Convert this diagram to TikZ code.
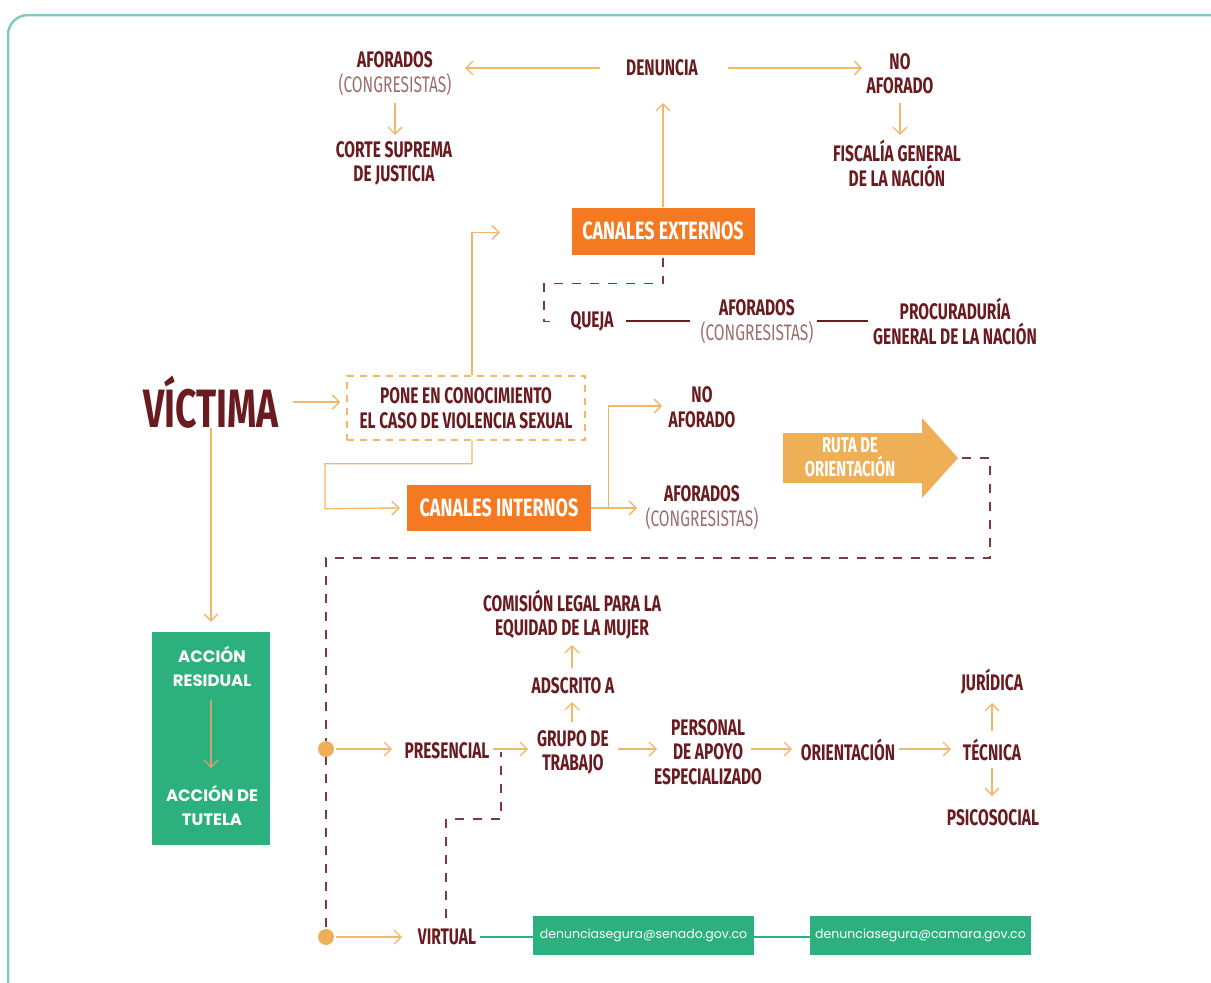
\documentclass[tikz,border=0pt]{standalone}
\usepackage{fontspec}
\newfontfamily\cond[FakeStretch=0.69]{Fira Sans}
\newfontfamily\condw[FakeStretch=0.72]{Fira Sans}
\newfontfamily\popp{Poppins}
\usetikzlibrary{arrows.meta,calc}
\definecolor{maroon}{HTML}{6A1B1F}
\definecolor{lite}{HTML}{9C6F6A}
\definecolor{arrc}{HTML}{F2B868}
\definecolor{orng}{HTML}{F47920}
\definecolor{grn}{HTML}{2BB07E}
\definecolor{ruta}{HTML}{EFAF56}
\definecolor{dm}{HTML}{7B3A3C}
\definecolor{framec}{HTML}{80CABE}
\definecolor{tanc}{HTML}{C9A46E}
\newcommand\congr{{\cond\mdseries\color{lite}(CONGRESISTAS)}}
\begin{document}
\begin{tikzpicture}[x=1pt,y=-1pt,
  lbl/.style={font=\cond\bfseries\fontsize{22.5}{24.5}\selectfont,text=maroon,align=center,inner sep=0pt},
  big/.style={font=\cond\bfseries\fontsize{54}{54}\selectfont,text=maroon,inner sep=0pt},
  obox/.style={fill=orng,text=white,font=\condw\bfseries\fontsize{25}{27}\selectfont,inner sep=0pt},
  pone/.style={draw=arrc,line width=1.4pt,dash pattern=on 7pt off 6pt,align=center,inner sep=0pt,font=\cond\bfseries\fontsize{22.5}{24.5}\selectfont,text=maroon,minimum width=238pt,minimum height=64pt},
  gbox/.style={fill=grn,text=white,font=\popp\fontsize{12.5}{14}\selectfont,inner sep=0pt,minimum width=221pt,minimum height=39pt},
  gtxt/.style={text=white,font=\popp\bfseries\fontsize{16.5}{24}\selectfont,align=center,inner sep=0pt},
  arr/.style={draw=arrc,line width=1.4pt,-{Straight Barb[length=7pt,width=14pt,line width=1.4pt]}},
  dmline/.style={draw=dm,line width=1.5pt,dash pattern=on 9pt off 9pt},
  solidm/.style={draw=maroon,line width=1.2pt},
  gline/.style={draw=grn,line width=1.4pt}]
\useasboundingbox (0,0) rectangle (1211,983);
\clip (0,0) rectangle (1211,983);
\draw[framec,line width=2.5pt,rounded corners=20pt] (8,15) rectangle (1240,1003);

% top
\node[lbl] (afo1) at (395,73.5) {AFORADOS\\\congr};
\node[lbl] (den) at (662,68) {DENUNCIA};
\node[lbl] (noaf1) at (900,73.5) {NO\\AFORADO};
\node[lbl] (corte) at (394,163.5) {CORTE SUPREMA\\DE JUSTICIA};
\node[lbl] (fisc) at (897,163.5) {FISCALÍA GENERAL\\DE LA NACIÓN};
\node[obox,minimum width=183pt,minimum height=47pt] (cext) at (663,231) {CANALES EXTERNOS};
\node[lbl] (queja) at (592,321) {QUEJA};
\node[lbl] (afo2) at (757,321.5) {AFORADOS\\\congr};
\node[lbl] (proc) at (955,321.5) {PROCURADURÍA\\GENERAL DE LA NACIÓN};

% middle
\node[big] (vic) at (211,402) {VÍCTIMA};
\node[pone] (pone) at (466,408) {PONE EN CONOCIMIENTO\\EL CASO DE VIOLENCIA SEXUAL};
\node[obox,minimum width=184pt,minimum height=46pt] (cint) at (499,508) {CANALES INTERNOS};
\node[lbl] (noaf2) at (702,407) {NO\\AFORADO};
\node[lbl] (afo3) at (702,507.5) {AFORADOS\\\congr};
\fill[ruta] (783,433) -- (922,433) -- (922,418) -- (958,458) -- (922,498) -- (922,483) -- (783,483) -- cycle;
\node[text=white,font=\cond\bfseries\fontsize{21.5}{24}\selectfont,align=center,inner sep=0pt] (ruta) at (850,457) {RUTA DE\\ORIENTACIÓN};
\coordinate (rutatip) at (962,458);

% bottom
\coordinate (c1) at (326,749);
\coordinate (c2) at (326,937);
\node[lbl] (pres) at (447,751) {PRESENCIAL};
\node[lbl] (grupo) at (573,752.5) {GRUPO DE\\TRABAJO};
\node[lbl] (ads) at (573,686) {ADSCRITO A};
\node[lbl] (com) at (572,614.5) {COMISIÓN LEGAL PARA LA\\EQUIDAD DE LA MUJER};
\node[lbl] (pers) at (708,752) {PERSONAL\\DE APOYO\\ESPECIALIZADO};
\node[lbl] (ori) at (848,750) {ORIENTACIÓN};
\node[lbl] (tec) at (992,750) {TÉCNICA};
\node[lbl] (jur) at (992,682) {JURÍDICA};
\node[lbl] (psi) at (993,818) {PSICOSOCIAL};
\node[lbl] (virt) at (447,937) {VIRTUAL};
\node[gbox] (sen) at (643.5,935.5) {denunciasegura@senado.gov.co};
\node[gbox] (cam) at (920.5,935.5) {denunciasegura@camara.gov.co};
\node[fill=grn,minimum width=118pt,minimum height=213pt,inner sep=0pt] (acc) at (211,738.5) {};
\node[gtxt] (res) at (212,666) {ACCIÓN\\RESIDUAL};
\node[gtxt] (tut) at (212,805) {ACCIÓN DE\\TUTELA};

% connectors top
\draw[arr] ($(den)+(-62,0)$) -- ($(afo1|-den)+(70,0)$);
\draw[arr] ($(den)+(66,0)$) -- ($(noaf1|-den)+(-38,0)$);
\draw[arr] ($(afo1)+(0,29.5)$) -- ($(afo1|-corte)+(0,-28.5)$);
\draw[arr] ($(noaf1)+(0,29.5)$) -- ($(noaf1|-fisc)+(0,-28.5)$);
\draw[arr] (cext.north) -- ($(cext.north|-den)+(0,35)$);
\draw[arr] ($(pone.north)+(6,0)$) -- ++(0,-143) -- ++(28,0);
\draw[dmline] ($(cext.south)+(0,3)$) -- ++(0,26) -- ++(-119,0) -- ++(0,38) -- ++(9,0);
\draw[solidm] ($(queja)+(34,0)$) -- ($(afo2|-queja)+(-67,0)$);
\draw[solidm] ($(afo2|-queja)+(60,0)$) -- ($(proc|-queja)+(-87,0)$);

% connectors middle
\draw[arr] ($(vic)+(82,0)$) -- ($(pone.west|-vic)+(-6,0)$);
\draw[arr] ($(pone.south)+(6,0)$) -- ++(0,23) -- ++(-147,0) -- ++(0,45) -- ($(cint.west)+(-7,0)$);
\draw[arr] (cint.east) -- ++(46,0);
\draw[arr] ($(cint.east)+(17,0)$) -- ++(0,-102) -- ++(54,0);
\draw[dmline] (rutatip) -- ++(28,0) -- ++(0,100) -- ++(-664,0) -- (c2);

% connectors bottom
\fill[ruta] (c1) circle[radius=8pt];
\fill[ruta] (c2) circle[radius=8pt];
\draw[arr] ($(c1)+(10,0)$) -- ++(56,0);
\draw[arr] ($(pres)+(46,-2)$) -- ++(35,0);
\draw[dmline] ($(virt)+(-1,-19)$) -- ++(0,-99) -- ++(55,0) -- ++(0,-67);
\draw[arr] ($(grupo)+(-1,-30.5)$) -- ++(0,-20);
\draw[arr] ($(ads)+(-1,-18)$) -- ++(0,-23);
\draw[arr] ($(grupo)+(45,-3.5)$) -- ++(39,0);
\draw[arr] ($(pers)+(43,-3)$) -- ++(41,0);
\draw[arr] ($(ori)+(51,-1)$) -- ++(52,0);
\draw[arr] ($(tec)+(0,-19)$) -- ++(0,-28);
\draw[arr] ($(tec)+(0,18)$) -- ++(0,28);
\draw[arr] ($(c2)+(10,0)$) -- ++(66,0);
\draw[gline] ($(virt)+(33,0)$) -- (sen.west|-virt);
\draw[gline] (sen.east|-virt) -- (cam.west|-virt);
\draw[arr] ($(vic)+(0,26)$) -- ($(acc.north)+(0,-10)$);
\draw[arr,draw=tanc] ($(acc)+(0,-38.5)$) -- ++(0,68);
\end{tikzpicture}
\end{document}
